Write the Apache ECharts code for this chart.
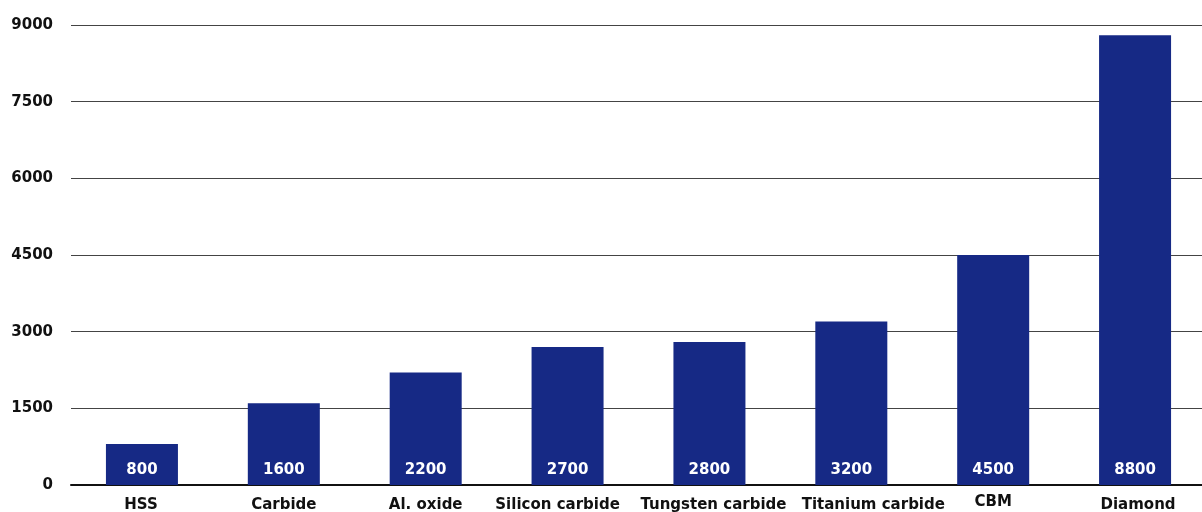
<!DOCTYPE html>
<html>
<head>
<meta charset="utf-8">
<script src="https://cdn.jsdelivr.net/npm/echarts@6/dist/echarts.min.js"></script>
<style>
  html, body { margin: 0; padding: 0; background: #fff; }
  #chart { width: 1202px; height: 512px; }
</style>
</head>
<body>
<div id="chart"></div>
<script>
const categories = ['HSS', 'Carbide', 'Al. oxide', 'Silicon carbide', 'Tungsten carbide', 'Titanium carbide', 'CBM', 'Diamond']
const hardness = [800, 1600, 2200, 2700, 2800, 3200, 4500, 8800]
const yTicks = [0, 1500, 3000, 4500, 6000, 7500, 9000]

// the original labels are not quite centred under their bars
const nudgeX = [-1, 0, 0, -10, 4, 22, 0, 3]
const nudgeY = [0, 0, 0, 0, 0, 0, -3, 0]

const font = 'DejaVu Sans'
const labelText = { color: '#111', fontFamily: font, fontWeight: 'bold', fontSize: 15 }

const rich = {}
categories.forEach((c, i) => {
  const dx = nudgeX[i]
  rich['l' + i] = Object.assign({}, labelText, {
    padding: [3 + nudgeY[i], dx < 0 ? -2 * dx : 0, 0, dx > 0 ? 2 * dx : 0]
  })
})

const chart = echarts.init(document.getElementById('chart'))

chart.setOption({
  animation: false,
  grid: { left: 71, top: 25, right: -4, height: 460, outerBoundsMode: 'none' },
  xAxis: {
    type: 'category',
    data: categories,
    axisTick: { show: false },
    axisLine: { lineStyle: { color: '#111', width: 2 } },
    axisLabel: Object.assign({}, labelText, {
      margin: 10,
      interval: 0,
      hideOverlap: false,
      formatter: (v, i) => '{l' + i + '|' + v + '}',
      rich: rich
    })
  },
  yAxis: {
    type: 'value',
    min: yTicks[0],
    max: yTicks[yTicks.length - 1],
    interval: 1500,
    axisLine: { show: false },
    axisTick: { show: false },
    splitLine: { lineStyle: { color: '#444', width: 1 } },
    axisLabel: Object.assign({}, labelText, {
      margin: 18,
      formatter: v => String(v)
    })
  },
  series: [{
    type: 'bar',
    data: hardness,
    barWidth: 72,
    itemStyle: { color: '#162985' },
    label: {
      show: true,
      position: 'insideBottom',
      distance: 7,
      color: '#fff',
      fontFamily: font,
      fontWeight: 'bold',
      fontSize: 15
    }
  }]
})
</script>
</body>
</html>
